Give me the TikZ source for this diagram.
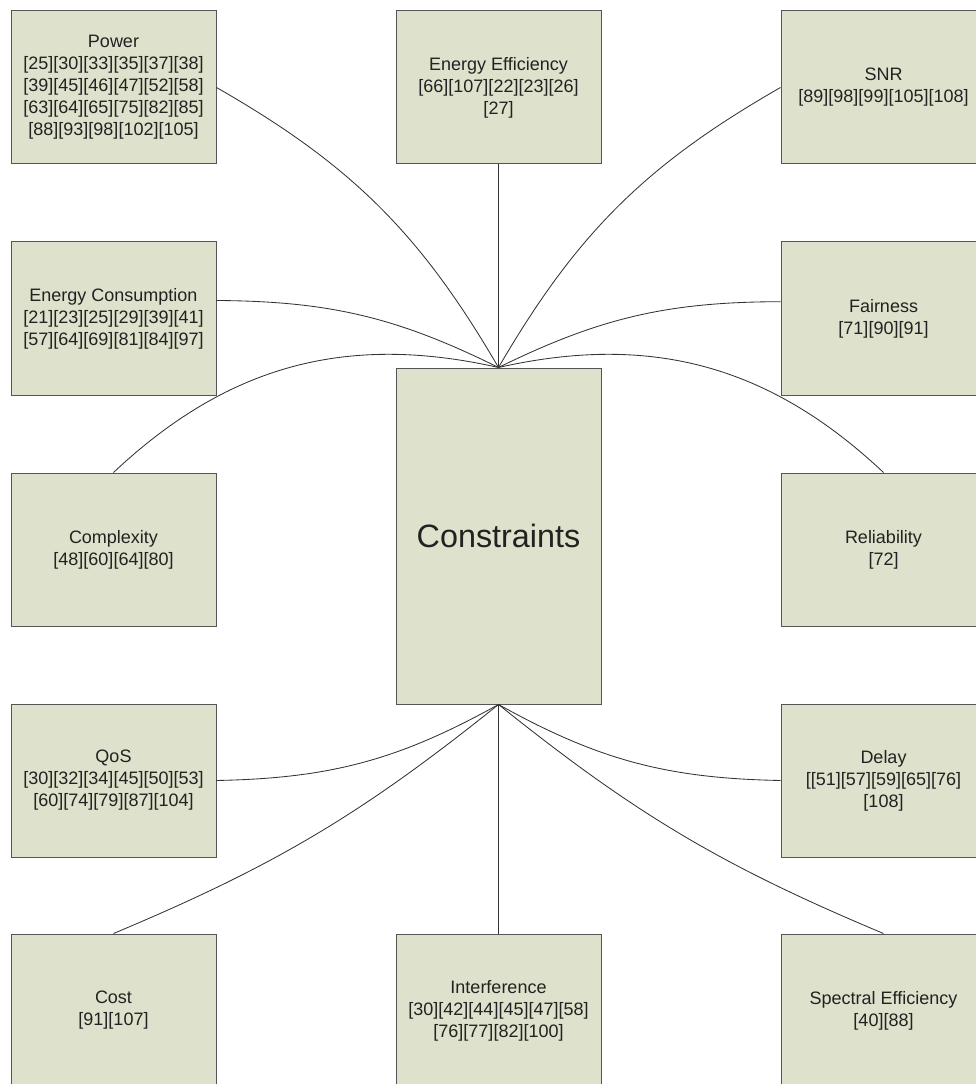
\documentclass[tikz,border=0pt]{standalone}
\usepackage{fontspec}
\setmainfont{Liberation Sans}
\usetikzlibrary{positioning}
\definecolor{boxfill}{HTML}{DEE1CB}
\definecolor{boxline}{HTML}{555555}
\definecolor{linkgray}{HTML}{333333}
\definecolor{txtgray}{HTML}{222222}

\begin{document}
\begin{tikzpicture}[
    topic/.style={draw=boxline, fill=boxfill, line width=0.7pt,
      minimum width=5.125cm, minimum height=3.825cm, inner sep=0pt,
      align=center, text=txtgray, font=\fontsize{12.8}{15.6}\selectfont},
    hub/.style={topic, minimum height=8.4cm, font=\fontsize{23}{27}\selectfont},
    link/.style={draw=linkgray, line width=0.6pt}
  ]

    \useasboundingbox (0,0) rectangle (24.4,27.1);

    %% ── Centre ──────────────────────────────────────────────────────────
    \node[hub] (cons) at (12.4625, 13.7) {Constraints};

    %% ── Left column ─────────────────────────────────────────────────────
    \node[topic] (pw) at (2.8375, 24.9125)
      {Power\\{[25][30][33][35][37][38]}\\{[39][45][46][47][52][58]}\\
       {[63][64][65][75][82][85]}\\{[88][93][98][102][105]}};
    \node[topic] (ec) at (2.8375, 19.1375)
      {Energy Consumption\\{[21][23][25][29][39][41]}\\{[57][64][69][81][84][97]}};
    \node[topic] (cplx) at (2.8375, 13.3625)
      {Complexity\\{[48][60][64][80]}};
    \node[topic] (qos) at (2.8375, 7.5875)
      {QoS\\{[30][32][34][45][50][53]}\\{[60][74][79][87][104]}};
    \node[topic] (cost) at (2.8375, 1.8375)
      {Cost\\{[91][107]}};

    %% ── Middle column ───────────────────────────────────────────────────
    \node[topic] (ee) at (12.4625, 24.9125)
      {Energy Efficiency\\{[66][107][22][23][26]}\\{[27]}};
    \node[topic] (intf) at (12.4625, 1.8375)
      {Interference\\{[30][42][44][45][47][58]}\\{[76][77][82][100]}};

    %% ── Right column ────────────────────────────────────────────────────
    \node[topic] (snr) at (22.0875, 24.9125)
      {SNR\\{[89][98][99][105][108]}};
    \node[topic] (fair) at (22.0875, 19.1375)
      {Fairness\\{[71][90][91]}};
    \node[topic] (rel) at (22.0875, 13.3625)
      {Reliability\\{[72]}};
    \node[topic] (dly) at (22.0875, 7.5875)
      {Delay\\{[[51][57][59][65][76]}\\{[108]}};
    \node[topic] (se) at (22.0875, 1.8375)
      {Spectral Efficiency\\{[40][88]}};

    %% ── Links to the top of the centre box ──────────────────────────────
    \draw[link] (pw.east) to[bend left=15] (cons.north);
    \draw[link] (ee.south) -- (cons.north);
    \draw[link] (snr.west) to[bend right=15] (cons.north);
    \draw[link] ([yshift=0.45cm]ec.east) to[bend left=13] (cons.north);
    \draw[link] ([yshift=0.42cm]fair.west) to[bend right=13] (cons.north);
    \draw[link] (cplx.north) to[bend left=28] (cons.north);
    \draw[link] (rel.north) to[bend right=28] (cons.north);

    %% ── Links to the bottom of the centre box ───────────────────────────
    \draw[link] (qos.east) to[bend right=14] (cons.south);
    \draw[link] (dly.west) to[bend left=14] (cons.south);
    \draw[link] (cost.north) to[bend right=8] (cons.south);
    \draw[link] (intf.north) -- (cons.south);
    \draw[link] (se.north) to[bend left=8] (cons.south);

\end{tikzpicture}
\end{document}
